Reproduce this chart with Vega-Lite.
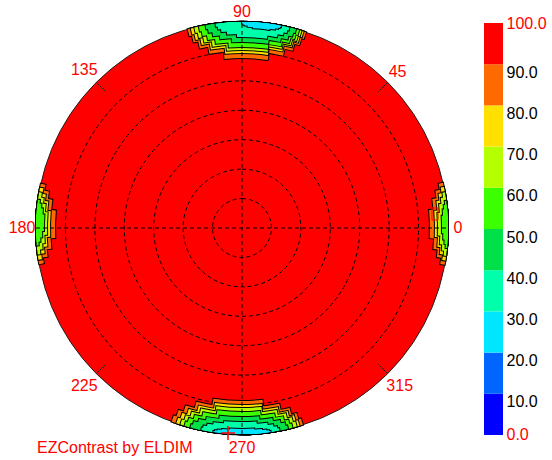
{
  "$schema": "https://vega.github.io/schema/vega-lite/v6.json",
  "padding": 0,
  "spacing": 0,
  "background": "white",
  "config": {"view": {"stroke": null}, "font": "Liberation Sans"},
  "datasets": {
    "disk": [{"a1": 90, "a2": -270, "r": 70}],
    "rings": [{"a1": 90, "a2": -270, "r": 10}, {"a1": 90, "a2": -270, "r": 20}, {"a1": 90, "a2": -270, "r": 30}, {"a1": 90, "a2": -270, "r": 40}, {"a1": 90, "a2": -270, "r": 50}, {"a1": 90, "a2": -270, "r": 60}],
    "lobes": [
      {"lobe": "N", "lv": 90, "a1": 71.9, "a2": 105.3, "ro": 70, "ri": 67.55},
      {"lobe": "N", "lv": 90, "a1": 72.6, "a2": 104.6, "ro": 70, "ri": 65.11},
      {"lobe": "N", "lv": 90, "a1": 74.1, "a2": 103.2, "ro": 70, "ri": 62.66},
      {"lobe": "N", "lv": 90, "a1": 76.6, "a2": 100.6, "ro": 70, "ri": 60.21},
      {"lobe": "N", "lv": 90, "a1": 81.3, "a2": 95.9, "ro": 70, "ri": 57.77},
      {"lobe": "N", "lv": 80, "a1": 72.6, "a2": 104.4, "ro": 70, "ri": 67.89},
      {"lobe": "N", "lv": 80, "a1": 73.2, "a2": 103.8, "ro": 70, "ri": 65.79},
      {"lobe": "N", "lv": 80, "a1": 74.6, "a2": 102.4, "ro": 70, "ri": 63.68},
      {"lobe": "N", "lv": 80, "a1": 77.1, "a2": 99.9, "ro": 70, "ri": 61.57},
      {"lobe": "N", "lv": 80, "a1": 81.5, "a2": 95.5, "ro": 70, "ri": 59.47},
      {"lobe": "N", "lv": 70, "a1": 73.2, "a2": 103.4, "ro": 70, "ri": 68.10},
      {"lobe": "N", "lv": 70, "a1": 73.8, "a2": 102.8, "ro": 70, "ri": 66.19},
      {"lobe": "N", "lv": 70, "a1": 75.1, "a2": 101.5, "ro": 70, "ri": 64.29},
      {"lobe": "N", "lv": 70, "a1": 77.5, "a2": 99.2, "ro": 70, "ri": 62.39},
      {"lobe": "N", "lv": 70, "a1": 81.7, "a2": 94.9, "ro": 70, "ri": 60.49},
      {"lobe": "N", "lv": 60, "a1": 73.9, "a2": 102.1, "ro": 70, "ri": 68.30},
      {"lobe": "N", "lv": 60, "a1": 74.5, "a2": 101.6, "ro": 70, "ri": 66.60},
      {"lobe": "N", "lv": 60, "a1": 75.7, "a2": 100.3, "ro": 70, "ri": 64.90},
      {"lobe": "N", "lv": 60, "a1": 77.9, "a2": 98.1, "ro": 70, "ri": 63.20},
      {"lobe": "N", "lv": 60, "a1": 81.8, "a2": 94.2, "ro": 70, "ri": 61.50},
      {"lobe": "N", "lv": 50, "a1": 74.8, "a2": 100.2, "ro": 70, "ri": 68.64},
      {"lobe": "N", "lv": 50, "a1": 75.3, "a2": 99.7, "ro": 70, "ri": 67.28},
      {"lobe": "N", "lv": 50, "a1": 76.4, "a2": 98.6, "ro": 70, "ri": 65.92},
      {"lobe": "N", "lv": 50, "a1": 78.4, "a2": 96.6, "ro": 70, "ri": 64.56},
      {"lobe": "N", "lv": 50, "a1": 81.9, "a2": 93.1, "ro": 70, "ri": 63.20},
      {"lobe": "N", "lv": 40, "a1": 76.7, "a2": 97.4, "ro": 70, "ri": 68.98},
      {"lobe": "N", "lv": 40, "a1": 77.1, "a2": 96.9, "ro": 70, "ri": 67.96},
      {"lobe": "N", "lv": 40, "a1": 78.0, "a2": 96.0, "ro": 70, "ri": 66.94},
      {"lobe": "N", "lv": 40, "a1": 79.6, "a2": 94.4, "ro": 70, "ri": 65.92},
      {"lobe": "N", "lv": 40, "a1": 82.5, "a2": 91.5, "ro": 70, "ri": 64.90},
      {"lobe": "N", "lv": 30, "a1": 79.0, "a2": 90.0, "ro": 70, "ri": 69.59},
      {"lobe": "N", "lv": 30, "a1": 79.3, "a2": 89.8, "ro": 70, "ri": 69.18},
      {"lobe": "N", "lv": 30, "a1": 79.7, "a2": 89.3, "ro": 70, "ri": 68.78},
      {"lobe": "N", "lv": 30, "a1": 80.6, "a2": 88.4, "ro": 70, "ri": 68.37},
      {"lobe": "N", "lv": 30, "a1": 82.1, "a2": 86.9, "ro": 70, "ri": 67.96},
      {"lobe": "S", "lv": 90, "a1": 250.0, "a2": 287.2, "ro": 70, "ri": 67.76},
      {"lobe": "S", "lv": 90, "a1": 250.8, "a2": 286.4, "ro": 70, "ri": 65.51},
      {"lobe": "S", "lv": 90, "a1": 252.4, "a2": 284.8, "ro": 70, "ri": 63.27},
      {"lobe": "S", "lv": 90, "a1": 255.3, "a2": 282.0, "ro": 70, "ri": 61.03},
      {"lobe": "S", "lv": 90, "a1": 260.5, "a2": 276.8, "ro": 70, "ri": 58.79},
      {"lobe": "S", "lv": 80, "a1": 251.4, "a2": 286.2, "ro": 70, "ri": 68.03},
      {"lobe": "S", "lv": 80, "a1": 252.1, "a2": 285.5, "ro": 70, "ri": 66.06},
      {"lobe": "S", "lv": 80, "a1": 253.6, "a2": 284.0, "ro": 70, "ri": 64.09},
      {"lobe": "S", "lv": 80, "a1": 256.3, "a2": 281.3, "ro": 70, "ri": 62.12},
      {"lobe": "S", "lv": 80, "a1": 261.2, "a2": 276.4, "ro": 70, "ri": 60.15},
      {"lobe": "S", "lv": 70, "a1": 252.6, "a2": 285.4, "ro": 70, "ri": 68.23},
      {"lobe": "S", "lv": 70, "a1": 253.3, "a2": 284.7, "ro": 70, "ri": 66.47},
      {"lobe": "S", "lv": 70, "a1": 254.7, "a2": 283.3, "ro": 70, "ri": 64.70},
      {"lobe": "S", "lv": 70, "a1": 257.2, "a2": 280.8, "ro": 70, "ri": 62.93},
      {"lobe": "S", "lv": 70, "a1": 261.8, "a2": 276.2, "ro": 70, "ri": 61.17},
      {"lobe": "S", "lv": 60, "a1": 253.8, "a2": 284.2, "ro": 70, "ri": 68.50},
      {"lobe": "S", "lv": 60, "a1": 254.4, "a2": 283.6, "ro": 70, "ri": 67.01},
      {"lobe": "S", "lv": 60, "a1": 255.8, "a2": 282.3, "ro": 70, "ri": 65.51},
      {"lobe": "S", "lv": 60, "a1": 258.1, "a2": 279.9, "ro": 70, "ri": 64.02},
      {"lobe": "S", "lv": 60, "a1": 262.3, "a2": 275.7, "ro": 70, "ri": 62.52},
      {"lobe": "S", "lv": 50, "a1": 255.5, "a2": 282.9, "ro": 70, "ri": 68.84},
      {"lobe": "S", "lv": 50, "a1": 256.0, "a2": 282.4, "ro": 70, "ri": 67.69},
      {"lobe": "S", "lv": 50, "a1": 257.3, "a2": 281.2, "ro": 70, "ri": 66.53},
      {"lobe": "S", "lv": 50, "a1": 259.4, "a2": 279.1, "ro": 70, "ri": 65.38},
      {"lobe": "S", "lv": 50, "a1": 263.2, "a2": 275.2, "ro": 70, "ri": 64.22},
      {"lobe": "S", "lv": 40, "a1": 258.6, "a2": 280.5, "ro": 70, "ri": 69.18},
      {"lobe": "S", "lv": 40, "a1": 259.0, "a2": 280.0, "ro": 70, "ri": 68.37},
      {"lobe": "S", "lv": 40, "a1": 260.0, "a2": 279.0, "ro": 70, "ri": 67.55},
      {"lobe": "S", "lv": 40, "a1": 261.7, "a2": 277.4, "ro": 70, "ri": 66.74},
      {"lobe": "S", "lv": 40, "a1": 264.7, "a2": 274.3, "ro": 70, "ri": 65.92},
      {"lobe": "S", "lv": 30, "a1": 262.0, "a2": 278.0, "ro": 70, "ri": 69.66},
      {"lobe": "S", "lv": 30, "a1": 262.4, "a2": 277.6, "ro": 70, "ri": 69.32},
      {"lobe": "S", "lv": 30, "a1": 263.1, "a2": 276.9, "ro": 70, "ri": 68.98},
      {"lobe": "S", "lv": 30, "a1": 264.3, "a2": 275.7, "ro": 70, "ri": 68.64},
      {"lobe": "S", "lv": 30, "a1": 266.5, "a2": 273.5, "ro": 70, "ri": 68.30},
      {"lobe": "W", "lv": 90, "a1": 167.6, "a2": 190.1, "ro": 70, "ri": 68.39},
      {"lobe": "W", "lv": 90, "a1": 169.3, "a2": 188.4, "ro": 70, "ri": 66.77},
      {"lobe": "W", "lv": 90, "a1": 171.5, "a2": 186.2, "ro": 70, "ri": 65.16},
      {"lobe": "W", "lv": 90, "a1": 174.6, "a2": 183.1, "ro": 70, "ri": 63.54},
      {"lobe": "W", "lv": 80, "a1": 168.7, "a2": 188.9, "ro": 70, "ri": 68.81},
      {"lobe": "W", "lv": 80, "a1": 170.3, "a2": 187.3, "ro": 70, "ri": 67.62},
      {"lobe": "W", "lv": 80, "a1": 172.2, "a2": 185.4, "ro": 70, "ri": 66.43},
      {"lobe": "W", "lv": 80, "a1": 175.0, "a2": 182.6, "ro": 70, "ri": 65.24},
      {"lobe": "W", "lv": 70, "a1": 170.0, "a2": 187.4, "ro": 70, "ri": 69.07},
      {"lobe": "W", "lv": 70, "a1": 171.4, "a2": 186.1, "ro": 70, "ri": 68.13},
      {"lobe": "W", "lv": 70, "a1": 173.0, "a2": 184.4, "ro": 70, "ri": 67.20},
      {"lobe": "W", "lv": 70, "a1": 175.4, "a2": 182.0, "ro": 70, "ri": 66.26},
      {"lobe": "W", "lv": 60, "a1": 172.1, "a2": 184.9, "ro": 70, "ri": 69.32},
      {"lobe": "W", "lv": 60, "a1": 173.1, "a2": 183.9, "ro": 70, "ri": 68.64},
      {"lobe": "W", "lv": 60, "a1": 174.4, "a2": 182.7, "ro": 70, "ri": 67.96},
      {"lobe": "W", "lv": 60, "a1": 176.1, "a2": 180.9, "ro": 70, "ri": 67.28},
      {"lobe": "E", "lv": 90, "a1": -10.3, "a2": 12.7, "ro": 70, "ri": 68.47},
      {"lobe": "E", "lv": 90, "a1": -8.5, "a2": 10.9, "ro": 70, "ri": 66.94},
      {"lobe": "E", "lv": 90, "a1": -6.3, "a2": 8.7, "ro": 70, "ri": 65.41},
      {"lobe": "E", "lv": 90, "a1": -3.1, "a2": 5.5, "ro": 70, "ri": 63.88},
      {"lobe": "E", "lv": 80, "a1": -9.1, "a2": 11.5, "ro": 70, "ri": 68.90},
      {"lobe": "E", "lv": 80, "a1": -7.5, "a2": 9.9, "ro": 70, "ri": 67.79},
      {"lobe": "E", "lv": 80, "a1": -5.5, "a2": 7.9, "ro": 70, "ri": 66.69},
      {"lobe": "E", "lv": 80, "a1": -2.7, "a2": 5.1, "ro": 70, "ri": 65.58},
      {"lobe": "E", "lv": 70, "a1": -7.8, "a2": 10.0, "ro": 70, "ri": 69.15},
      {"lobe": "E", "lv": 70, "a1": -6.4, "a2": 8.6, "ro": 70, "ri": 68.30},
      {"lobe": "E", "lv": 70, "a1": -4.7, "a2": 6.9, "ro": 70, "ri": 67.45},
      {"lobe": "E", "lv": 70, "a1": -2.2, "a2": 4.4, "ro": 70, "ri": 66.60},
      {"lobe": "E", "lv": 60, "a1": -5.6, "a2": 7.6, "ro": 70, "ri": 69.49},
      {"lobe": "E", "lv": 60, "a1": -4.5, "a2": 6.5, "ro": 70, "ri": 68.98},
      {"lobe": "E", "lv": 60, "a1": -3.3, "a2": 5.3, "ro": 70, "ri": 68.47},
      {"lobe": "E", "lv": 60, "a1": -1.5, "a2": 3.5, "ro": 70, "ri": 67.96}
    ],
    "axes": [{"x": -70, "y": 0, "x2": 70, "y2": 0}, {"x": 0, "y": -70, "x2": 0, "y2": 70}],
    "ticks": [
      {"x": 46.4, "y": 46.4, "x2": 49.5, "y2": 49.5},
      {"x": -46.4, "y": 46.4, "x2": -49.5, "y2": 49.5},
      {"x": -46.4, "y": -46.4, "x2": -49.5, "y2": -49.5},
      {"x": 46.4, "y": -46.4, "x2": 49.5, "y2": -49.5}
    ],
    "labels": [
      {"az": 0, "t": "0"}, {"az": 45, "t": "45"}, {"az": 90, "t": "90"}, {"az": 135, "t": "135"},
      {"az": 180, "t": "180"}, {"az": 225, "t": "225"}, {"az": 270, "t": "270"}, {"az": 315, "t": "315"}
    ],
    "credit": [{"x": -69.66, "y": -76.45, "t": "EZContrast by ELDIM"}],
    "plus": [{"x": -4.76, "y": -69.66}],
    "box": [{"x": 65.58, "y": 4.76}],
    "bands": [
      {"lo": 0, "hi": 10}, {"lo": 10, "hi": 20}, {"lo": 20, "hi": 30}, {"lo": 30, "hi": 40}, {"lo": 40, "hi": 50},
      {"lo": 50, "hi": 60}, {"lo": 60, "hi": 70}, {"lo": 70, "hi": 80}, {"lo": 80, "hi": 90}, {"lo": 90, "hi": 100}
    ]
  },
  "hconcat": [
    {
      "width": 484,
      "height": 456,
      "layer": [
        {
          "data": {"name": "disk"},
          "mark": {"type": "arc", "fill": "#FF0000", "stroke": "#202020", "strokeWidth": 1},
          "encoding": {
            "theta": {"field": "a1", "type": "quantitative", "stack": null, "scale": {"domain": [90, -270], "range": [0, 6.283185307179586], "nice": false, "zero": false}},
            "theta2": {"field": "a2"},
            "radius": {"field": "r", "type": "quantitative", "scale": {"type": "linear", "domain": [0, 70], "range": [0, 206], "nice": false, "zero": false}}
          }
        },
        {
          "data": {"name": "rings"},
          "mark": {"type": "arc", "filled": false, "stroke": "black", "strokeWidth": 1, "strokeDash": [4, 3]},
          "encoding": {
            "theta": {"field": "a1", "type": "quantitative", "stack": null},
            "theta2": {"field": "a2"},
            "radius": {"field": "r", "type": "quantitative"}
          }
        },
        {"data": {"name": "lobes"}, "transform": [{"filter": "datum.lv == 90"}], "mark": {"type": "arc", "filled": false, "stroke": "black", "strokeWidth": 2},
          "encoding": {"theta": {"field": "a1", "type": "quantitative", "stack": null}, "theta2": {"field": "a2"}, "radius": {"field": "ro", "type": "quantitative"}, "radius2": {"field": "ri"}}},
        {"data": {"name": "lobes"}, "transform": [{"filter": "datum.lv == 90"}], "mark": {"type": "arc", "fill": "#FF6A00"},
          "encoding": {"theta": {"field": "a1", "type": "quantitative", "stack": null}, "theta2": {"field": "a2"}, "radius": {"field": "ro", "type": "quantitative"}, "radius2": {"field": "ri"}}},
        {"data": {"name": "lobes"}, "transform": [{"filter": "datum.lv == 80"}], "mark": {"type": "arc", "filled": false, "stroke": "black", "strokeWidth": 2},
          "encoding": {"theta": {"field": "a1", "type": "quantitative", "stack": null}, "theta2": {"field": "a2"}, "radius": {"field": "ro", "type": "quantitative"}, "radius2": {"field": "ri"}}},
        {"data": {"name": "lobes"}, "transform": [{"filter": "datum.lv == 80"}], "mark": {"type": "arc", "fill": "#FFE000"},
          "encoding": {"theta": {"field": "a1", "type": "quantitative", "stack": null}, "theta2": {"field": "a2"}, "radius": {"field": "ro", "type": "quantitative"}, "radius2": {"field": "ri"}}},
        {"data": {"name": "lobes"}, "transform": [{"filter": "datum.lv == 70"}], "mark": {"type": "arc", "filled": false, "stroke": "black", "strokeWidth": 2},
          "encoding": {"theta": {"field": "a1", "type": "quantitative", "stack": null}, "theta2": {"field": "a2"}, "radius": {"field": "ro", "type": "quantitative"}, "radius2": {"field": "ri"}}},
        {"data": {"name": "lobes"}, "transform": [{"filter": "datum.lv == 70"}], "mark": {"type": "arc", "fill": "#B4FF00"},
          "encoding": {"theta": {"field": "a1", "type": "quantitative", "stack": null}, "theta2": {"field": "a2"}, "radius": {"field": "ro", "type": "quantitative"}, "radius2": {"field": "ri"}}},
        {"data": {"name": "lobes"}, "transform": [{"filter": "datum.lv == 60"}], "mark": {"type": "arc", "filled": false, "stroke": "black", "strokeWidth": 2},
          "encoding": {"theta": {"field": "a1", "type": "quantitative", "stack": null}, "theta2": {"field": "a2"}, "radius": {"field": "ro", "type": "quantitative"}, "radius2": {"field": "ri"}}},
        {"data": {"name": "lobes"}, "transform": [{"filter": "datum.lv == 60"}], "mark": {"type": "arc", "fill": "#3CFF00"},
          "encoding": {"theta": {"field": "a1", "type": "quantitative", "stack": null}, "theta2": {"field": "a2"}, "radius": {"field": "ro", "type": "quantitative"}, "radius2": {"field": "ri"}}},
        {"data": {"name": "lobes"}, "transform": [{"filter": "datum.lv == 50"}], "mark": {"type": "arc", "filled": false, "stroke": "black", "strokeWidth": 2},
          "encoding": {"theta": {"field": "a1", "type": "quantitative", "stack": null}, "theta2": {"field": "a2"}, "radius": {"field": "ro", "type": "quantitative"}, "radius2": {"field": "ri"}}},
        {"data": {"name": "lobes"}, "transform": [{"filter": "datum.lv == 50"}], "mark": {"type": "arc", "fill": "#00E048"},
          "encoding": {"theta": {"field": "a1", "type": "quantitative", "stack": null}, "theta2": {"field": "a2"}, "radius": {"field": "ro", "type": "quantitative"}, "radius2": {"field": "ri"}}},
        {"data": {"name": "lobes"}, "transform": [{"filter": "datum.lv == 40"}], "mark": {"type": "arc", "filled": false, "stroke": "black", "strokeWidth": 2},
          "encoding": {"theta": {"field": "a1", "type": "quantitative", "stack": null}, "theta2": {"field": "a2"}, "radius": {"field": "ro", "type": "quantitative"}, "radius2": {"field": "ri"}}},
        {"data": {"name": "lobes"}, "transform": [{"filter": "datum.lv == 40"}], "mark": {"type": "arc", "fill": "#00FFAA"},
          "encoding": {"theta": {"field": "a1", "type": "quantitative", "stack": null}, "theta2": {"field": "a2"}, "radius": {"field": "ro", "type": "quantitative"}, "radius2": {"field": "ri"}}},
        {"data": {"name": "lobes"}, "transform": [{"filter": "datum.lv == 30"}], "mark": {"type": "arc", "filled": false, "stroke": "black", "strokeWidth": 2},
          "encoding": {"theta": {"field": "a1", "type": "quantitative", "stack": null}, "theta2": {"field": "a2"}, "radius": {"field": "ro", "type": "quantitative"}, "radius2": {"field": "ri"}}},
        {"data": {"name": "lobes"}, "transform": [{"filter": "datum.lv == 30"}], "mark": {"type": "arc", "fill": "#00E6FF"},
          "encoding": {"theta": {"field": "a1", "type": "quantitative", "stack": null}, "theta2": {"field": "a2"}, "radius": {"field": "ro", "type": "quantitative"}, "radius2": {"field": "ri"}}},
        {
          "data": {"name": "axes"},
          "mark": {"type": "rule", "color": "black", "strokeWidth": 1, "strokeDash": [4, 3]},
          "encoding": {
            "x": {"field": "x", "type": "quantitative", "scale": {"domain": [-82.23, 82.23], "nice": false, "zero": false}, "axis": null},
            "y": {"field": "y", "type": "quantitative", "scale": {"domain": [-77.48, 77.48], "nice": false, "zero": false}, "axis": null},
            "x2": {"field": "x2"},
            "y2": {"field": "y2"}
          }
        },
        {
          "data": {"name": "ticks"},
          "mark": {"type": "rule", "color": "#202020", "strokeWidth": 1},
          "encoding": {
            "x": {"field": "x", "type": "quantitative", "axis": null},
            "y": {"field": "y", "type": "quantitative", "axis": null},
            "x2": {"field": "x2"},
            "y2": {"field": "y2"}
          }
        },
        {
          "data": {"name": "box"},
          "mark": {"type": "point", "shape": "M-0.5,-1H0.5V1H-0.5Z", "size": 144, "color": "#FF0000", "filled": false, "strokeWidth": 1, "opacity": 1},
          "encoding": {
            "x": {"field": "x", "type": "quantitative", "axis": null},
            "y": {"field": "y", "type": "quantitative", "axis": null}
          }
        },
        {
          "data": {"name": "plus"},
          "mark": {"type": "point", "shape": "M-1,0H1M0,-1V1", "size": 196, "color": "#FF0000", "filled": false, "strokeWidth": 1.5, "opacity": 1},
          "encoding": {
            "x": {"field": "x", "type": "quantitative", "axis": null},
            "y": {"field": "y", "type": "quantitative", "axis": null}
          }
        },
        {
          "data": {"name": "labels"},
          "transform": [{"filter": "datum.az == 0 || datum.az == 90"}],
          "mark": {"type": "text", "radius": 216, "fontSize": 16, "font": "Liberation Sans", "color": "#FF0000", "align": "center", "baseline": "middle"},
          "encoding": {
            "theta": {"field": "az", "type": "quantitative", "stack": null},
            "text": {"field": "t"}
          }
        },
        {
          "data": {"name": "labels"},
          "transform": [{"filter": "datum.az == 45 || datum.az == 180 || datum.az == 270"}],
          "mark": {"type": "text", "radius": 220, "fontSize": 16, "font": "Liberation Sans", "color": "#FF0000", "align": "center", "baseline": "middle"},
          "encoding": {
            "theta": {"field": "az", "type": "quantitative", "stack": null},
            "text": {"field": "t"}
          }
        },
        {
          "data": {"name": "labels"},
          "transform": [{"filter": "datum.az == 135 || datum.az == 225 || datum.az == 315"}],
          "mark": {"type": "text", "radius": 223, "fontSize": 16, "font": "Liberation Sans", "color": "#FF0000", "align": "center", "baseline": "middle"},
          "encoding": {
            "theta": {"field": "az", "type": "quantitative", "stack": null},
            "text": {"field": "t"}
          }
        },
        {
          "data": {"name": "credit"},
          "mark": {"type": "text", "fontSize": 16, "font": "Liberation Sans", "color": "#FF0000", "align": "left", "baseline": "alphabetic"},
          "encoding": {
            "x": {"field": "x", "type": "quantitative", "axis": null},
            "y": {"field": "y", "type": "quantitative", "axis": null},
            "text": {"field": "t"}
          }
        }
      ]
    },
    {
      "width": 19,
      "height": 458,
      "data": {"name": "bands"},
      "mark": {"type": "rect"},
      "encoding": {
        "y": {
          "field": "lo",
          "type": "quantitative",
          "scale": {"domain": [-5.583, 105.583], "nice": false, "zero": false},
          "axis": {
            "orient": "right",
            "values": [0, 10, 20, 30, 40, 50, 60, 70, 80, 90, 100],
            "format": ".1f",
            "ticks": false,
            "domain": false,
            "grid": false,
            "title": null,
            "labelFont": "Liberation Sans",
            "labelFontSize": 16,
            "labelPadding": 3,
            "labelFlush": false,
            "labelOverlap": false,
            "labelBound": false,
            "labelColor": {"condition": {"test": "datum.value == 0 || datum.value == 100", "value": "#FF0000"}, "value": "black"},
            "labelBaseline": {"condition": {"test": "datum.value == 0 || datum.value == 100", "value": "middle"}, "value": "top"}
          }
        },
        "y2": {"field": "hi"},
        "color": {
          "field": "lo",
          "type": "ordinal",
          "scale": {
            "domain": [0, 10, 20, 30, 40, 50, 60, 70, 80, 90],
            "range": ["#0000FF", "#0066FF", "#00E6FF", "#00FFAA", "#00E048", "#3CFF00", "#B4FF00", "#FFE000", "#FF6A00", "#FF0000"]
          },
          "legend": null
        }
      }
    }
  ]
}
